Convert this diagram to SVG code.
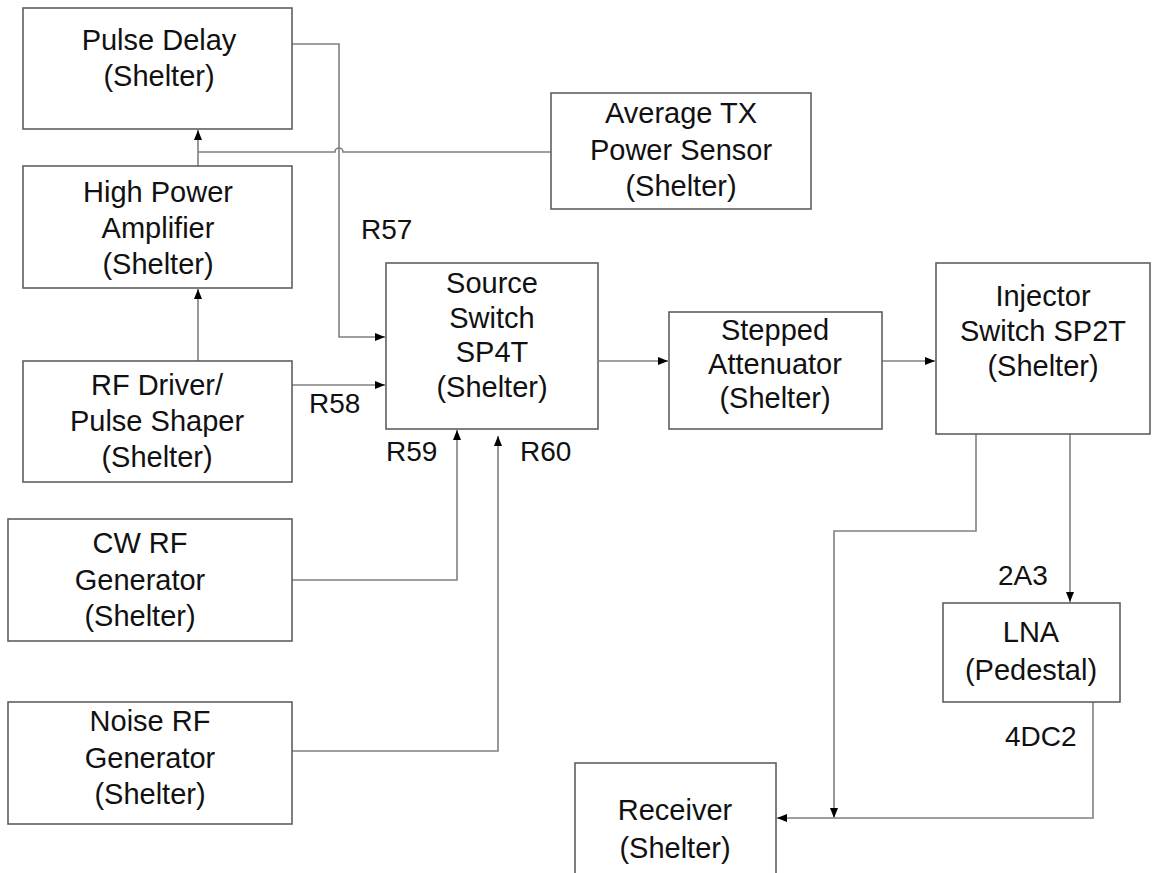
<svg xmlns="http://www.w3.org/2000/svg" width="1152" height="873" viewBox="0 0 1152 873">
  <style>
    .box { fill: #ffffff; stroke: #5f5f5f; stroke-width: 1.6; }
    .lbl { font-family: "Liberation Sans", Arial, sans-serif; font-size: 29px; fill: #111111; text-anchor: middle; }
    .tag { font-family: "Liberation Sans", Arial, sans-serif; font-size: 28px; fill: #111111; }
    .wire { fill: none; stroke: #808080; stroke-width: 1.6; }
  </style>
  <defs>
    <marker id="arrow" markerUnits="userSpaceOnUse" viewBox="0 0 10 8" markerWidth="10" markerHeight="8" refX="10" refY="4" orient="auto">
      <path d="M0,0 L10,4 L0,8 z" fill="#000000"/>
    </marker>
  </defs>
  <rect width="1152" height="873" fill="#ffffff"/>

  <!-- connectors -->
  <g id="connectors">
    <!-- RF driver to high power amplifier -->
    <path class="wire" d="M198,361 L198,289" marker-end="url(#arrow)"/>
    <!-- high power amplifier to pulse delay -->
    <path class="wire" d="M198,166 L198,130" marker-end="url(#arrow)"/>
    <!-- coupled tap to average power sensor, hopping over the R57 line -->
    <path class="wire" d="M198,152 L335,152 A4,4 0 0 1 343,152 L551,152"/>
    <!-- pulse delay to source switch (R57) -->
    <path class="wire" d="M292,44 L339,44 L339,337 L385,337" marker-end="url(#arrow)"/>
    <!-- RF driver to source switch (R58) -->
    <path class="wire" d="M292,385 L385,385" marker-end="url(#arrow)"/>
    <!-- CW generator to source switch (R59) -->
    <path class="wire" d="M292,580 L457,580 L457,430" marker-end="url(#arrow)"/>
    <!-- noise generator to source switch (R60) -->
    <path class="wire" d="M292,751 L498,751 L498,436" marker-end="url(#arrow)"/>
    <!-- source switch to stepped attenuator -->
    <path class="wire" d="M599,361 L668,361" marker-end="url(#arrow)"/>
    <!-- stepped attenuator to injector switch -->
    <path class="wire" d="M882,361 L935,361" marker-end="url(#arrow)"/>
    <!-- injector switch bypass to receiver path -->
    <path class="wire" d="M976,434 L976,531 L834,531 L834,818" marker-end="url(#arrow)"/>
    <!-- injector switch to LNA (2A3) -->
    <path class="wire" d="M1070,434 L1070,602" marker-end="url(#arrow)"/>
    <!-- LNA to receiver (4DC2) -->
    <path class="wire" d="M1093,702 L1093,818 L777,818" marker-end="url(#arrow)"/>
  </g>

  <!-- connector labels -->
  <g id="labels">
    <text class="tag" x="361" y="239">R57</text>
    <text class="tag" x="309" y="413">R58</text>
    <text class="tag" x="386" y="461">R59</text>
    <text class="tag" x="520" y="461">R60</text>
    <text class="tag" x="998" y="585">2A3</text>
    <text class="tag" x="1005" y="746">4DC2</text>
  </g>

  <g id="pulse-delay">
    <rect class="box" x="23" y="8" width="269" height="121"/>
    <text class="lbl" x="159" y="50">Pulse Delay</text>
    <text class="lbl" x="159" y="86">(Shelter)</text>
  </g>

  <g id="high-power-amplifier">
    <rect class="box" x="23" y="166" width="269" height="122"/>
    <text class="lbl" x="158" y="202">High Power</text>
    <text class="lbl" x="158" y="238">Amplifier</text>
    <text class="lbl" x="158" y="274">(Shelter)</text>
  </g>

  <g id="rf-driver">
    <rect class="box" x="23" y="361" width="269" height="121"/>
    <text class="lbl" x="157" y="395">RF Driver/</text>
    <text class="lbl" x="157" y="431">Pulse Shaper</text>
    <text class="lbl" x="157" y="467">(Shelter)</text>
  </g>

  <g id="cw-rf-generator">
    <rect class="box" x="8" y="519" width="284" height="122"/>
    <text class="lbl" x="140" y="553">CW RF</text>
    <text class="lbl" x="140" y="590">Generator</text>
    <text class="lbl" x="140" y="626">(Shelter)</text>
  </g>

  <g id="noise-rf-generator">
    <rect class="box" x="8" y="702" width="284" height="122"/>
    <text class="lbl" x="150" y="731">Noise RF</text>
    <text class="lbl" x="150" y="768">Generator</text>
    <text class="lbl" x="150" y="804">(Shelter)</text>
  </g>

  <g id="average-tx-power-sensor">
    <rect class="box" x="551" y="93" width="260" height="116"/>
    <text class="lbl" x="681" y="123">Average TX</text>
    <text class="lbl" x="681" y="160">Power Sensor</text>
    <text class="lbl" x="681" y="196">(Shelter)</text>
  </g>

  <g id="source-switch">
    <rect class="box" x="386" y="263" width="212" height="166"/>
    <text class="lbl" x="492" y="293">Source</text>
    <text class="lbl" x="492" y="328">Switch</text>
    <text class="lbl" x="492" y="362">SP4T</text>
    <text class="lbl" x="492" y="397">(Shelter)</text>
  </g>

  <g id="stepped-attenuator">
    <rect class="box" x="669" y="312" width="213" height="117"/>
    <text class="lbl" x="775" y="340">Stepped</text>
    <text class="lbl" x="775" y="374">Attenuator</text>
    <text class="lbl" x="775" y="408">(Shelter)</text>
  </g>

  <g id="injector-switch">
    <rect class="box" x="936" y="263" width="214" height="171"/>
    <text class="lbl" x="1043" y="306">Injector</text>
    <text class="lbl" x="1043" y="341">Switch SP2T</text>
    <text class="lbl" x="1043" y="376">(Shelter)</text>
  </g>

  <g id="lna">
    <rect class="box" x="943" y="603" width="177" height="99"/>
    <text class="lbl" x="1031" y="642">LNA</text>
    <text class="lbl" x="1031" y="680">(Pedestal)</text>
  </g>

  <g id="receiver">
    <rect class="box" x="575" y="763" width="201" height="130"/>
    <text class="lbl" x="675" y="820">Receiver</text>
    <text class="lbl" x="675" y="858">(Shelter)</text>
  </g>
</svg>
